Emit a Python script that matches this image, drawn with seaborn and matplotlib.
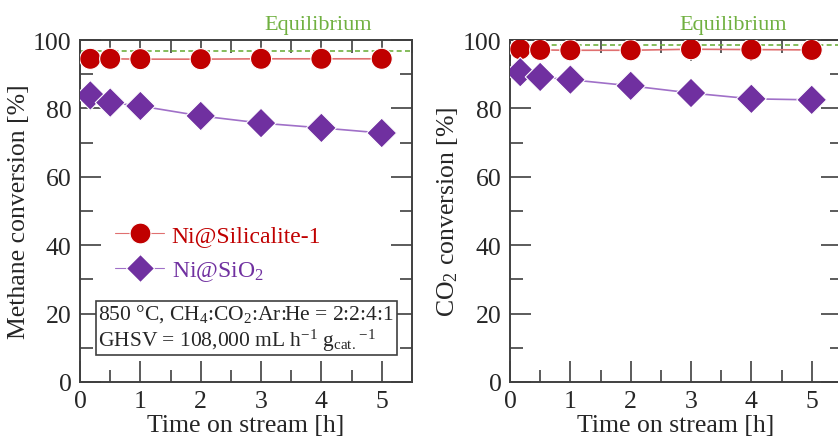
import pandas as pd
import seaborn as sns
import matplotlib.pyplot as plt
from matplotlib.lines import Line2D
from matplotlib.ticker import MultipleLocator

# --- Data ---
time_h = [0.17, 0.5, 1, 2, 3, 4, 5]
ch4_silicalite = [94.5, 94.5, 94.4, 94.4, 94.5, 94.5, 94.5]
ch4_sio2 = [83.8, 81.7, 80.7, 77.8, 75.7, 74.3, 72.8]
co2_silicalite = [97.3, 97.1, 97.0, 97.0, 97.3, 97.2, 97.1]
co2_sio2 = [90.6, 89.2, 88.4, 86.6, 84.5, 82.8, 82.5]
ch4_equilibrium = 96.8
co2_equilibrium = 98.4
catalysts = ["Ni@Silicalite-1", "Ni@SiO$_2$"]

RED = "#c00000"
RED_LINE = "#e07070"
PURPLE = "#7030a0"
PURPLE_LINE = "#a070c8"
GREEN = "#70b040"
SPINE = "#404040"

sns.set_theme(style="ticks")
plt.rcParams["font.family"] = ["Liberation Serif", "DejaVu Serif"]
plt.rcParams["mathtext.default"] = "regular"
plt.rcParams["mathtext.fontset"] = "custom"
plt.rcParams["mathtext.rm"] = "Liberation Serif"

fig = plt.figure(figsize=(8.38, 4.39), dpi=100)
ax1 = fig.add_axes([0.0955, 0.1276, 0.396, 0.779])
ax2 = fig.add_axes([0.6086, 0.1276, 0.396, 0.779])


def make_frame(y_a, y_b):
    return pd.DataFrame({
        "time": time_h * 2,
        "conv": y_a + y_b,
        "cat": [catalysts[0]] * len(time_h) + [catalysts[1]] * len(time_h),
    })


def draw_panel(ax, df, eq, ylabel, eq_x):
    ax.axhline(eq, color=GREEN, ls=(0, (3, 2)), lw=1.2, zorder=1)
    sns.lineplot(data=df, x="time", y="conv", hue="cat",
                 palette={catalysts[0]: RED_LINE, catalysts[1]: PURPLE_LINE},
                 lw=1.2, legend=False, ax=ax, zorder=2)
    sns.scatterplot(data=df, x="time", y="conv", hue="cat", style="cat",
                    palette={catalysts[0]: RED, catalysts[1]: PURPLE},
                    markers={catalysts[0]: "o", catalysts[1]: "D"},
                    s=230, edgecolor="white", linewidth=0.8,
                    legend=False, ax=ax, zorder=3)
    ax.set_xlim(0, 5.5)
    ax.set_ylim(0, 100)
    ax.xaxis.set_major_locator(MultipleLocator(1))
    ax.xaxis.set_minor_locator(MultipleLocator(0.5))
    ax.yaxis.set_major_locator(MultipleLocator(20))
    ax.yaxis.set_minor_locator(MultipleLocator(10))
    ax.tick_params(which="both", direction="in", top=True, right=True,
                   color=SPINE, width=1.2, labelsize=18.5)
    ax.tick_params(axis="x", which="both", pad=6)
    ax.tick_params(axis="y", which="both", pad=6)
    ax.tick_params(which="major", length=15)
    ax.tick_params(which="minor", length=9)
    for s in ax.spines.values():
        s.set_color(SPINE)
        s.set_linewidth(1.4)
    ax.set_xlabel("Time on stream [h]", fontsize=18.5, labelpad=1)
    ax.set_ylabel(ylabel, fontsize=18.5, labelpad=2)
    ax.text(eq_x, 101.8, "Equilibrium", color=GREEN, fontsize=16,
            ha="center", va="bottom")


draw_panel(ax1, make_frame(ch4_silicalite, ch4_sio2), ch4_equilibrium,
           "Methane conversion [%]", 3.95)
draw_panel(ax2, make_frame(co2_silicalite, co2_sio2), co2_equilibrium,
           "CO$_2$ conversion [%]", 3.7)

handles = [
    Line2D([], [], color=RED_LINE, lw=0.8, marker="o", ms=15,
           markerfacecolor=RED, markeredgecolor="white", markeredgewidth=0.8),
    Line2D([], [], color=PURPLE_LINE, lw=0.8, marker="D", ms=14,
           markerfacecolor=PURPLE, markeredgecolor="white", markeredgewidth=0.8),
]
leg = ax1.legend(handles, catalysts, loc="center left",
                 bbox_to_anchor=(0.105, 0.375), frameon=False, fontsize=17,
                 handlelength=2.1, handletextpad=0.3, labelspacing=0.55,
                 borderaxespad=0, borderpad=0)
leg.get_texts()[0].set_color(RED)
leg.get_texts()[1].set_color(PURPLE)

ax1.text(0.055, 0.16,
         "850 °C, CH$_4$:CO$_2$:Ar:He = 2:2:4:1\n"
         "GHSV = 108,000 mL h$^{-1}$ g$_{cat.}$$^{-1}$",
         transform=ax1.transAxes, fontsize=15.5, va="center", ha="left",
         linespacing=1.15,
         bbox=dict(boxstyle="square,pad=0.12", fc="white", ec=SPINE, lw=1.2))

plt.savefig("out.png", dpi=100)
